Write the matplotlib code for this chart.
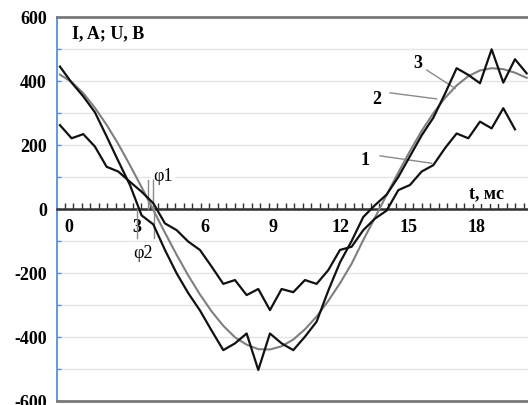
import numpy as np
import matplotlib
matplotlib.use('Agg')
import matplotlib.pyplot as plt
from matplotlib.ticker import FixedLocator, MultipleLocator

# ---- data ----
T0 = -0.4          # time of first sample, ms
DT = 0.515         # sample step, ms
curve_1 = [262, 221, 234, 195, 132, 117, 85, 54, 18, -45, -66, -102, -128, -180,
           -234, -222, -269, -250, -316, -250, -260, -222, -234, -191, -128, -118,
           -66, -30, -5, 59, 75, 117, 137, 190, 236, 221, 273, 252, 315, 249]
curve_2 = [445, 395, 352, 302, 227, 150, 75, -20, -48, -128, -201, -263, -317, -380,
           -441, -420, -389, -503, -389, -420, -441, -399, -352, -255, -167, -100,
           -25, 12, 45, 100, 165, 230, 285, 360, 440, 419, 393, 499, 395, 468, 424]
curve_3 = [420, 397, 362, 316, 263, 203, 137, 68, -3, -74, -143, -208, -267, -320,
           -365, -401, -424, -438, -439, -429, -408, -376, -336, -287, -232, -171,
           -97, -27, 44, 114, 181, 244, 299, 347, 386, 415, 433, 440, 437, 426, 410]
x_tick_labels = [0, 3, 6, 9, 12, 15, 18]
y_tick_labels = [-600, -400, -200, 0, 200, 400, 600]
phi1_marks = [3.5, 3.72]
phi2_marks = [3.0, 3.75]

t1 = T0 + DT * np.arange(len(curve_1))
t2 = T0 + DT * np.arange(len(curve_2))
t3 = T0 + DT * np.arange(len(curve_3))

FONT = 'Liberation Serif'
FS = 13
plt.rcParams['font.family'] = [FONT, 'DejaVu Serif']
plt.rcParams['font.weight'] = 'bold'

fig = plt.figure(figsize=(5.28, 4.05), dpi=100)
W, H = 528, 405
ax = fig.add_axes([56.7 / W, 4 / H, (W - 56.7) / W, (401 - 17) / H])
ax.set_xlim(-0.543, 20.26)
ax.set_ylim(-600, 600)

# grid
ax.yaxis.set_major_locator(FixedLocator(y_tick_labels))
ax.yaxis.set_minor_locator(MultipleLocator(100))
ax.grid(axis='y', which='both', color='#e4e4e4', lw=1.0, zorder=0)
ax.set_axisbelow(True)

# spines
blue = '#5b8fd9'
ax.spines['left'].set_color(blue)
ax.spines['left'].set_linewidth(1.3)
ax.spines['right'].set_visible(False)
ax.spines['top'].set_color('#7a7a7a')
ax.spines['top'].set_linewidth(2.0)
ax.spines['bottom'].set_position(('data', 0))
ax.spines['bottom'].set_color('#303030')
ax.spines['bottom'].set_linewidth(1.8)
ax.spines['bottom'].set_zorder(3)
ax.axhline(-600, color='#7a7a7a', lw=2.0, clip_on=False, zorder=3)

ax.tick_params(axis='y', which='both', direction='in', color=blue, length=3,
               width=1.0, pad=7, labelsize=FS)
ax.xaxis.set_major_locator(FixedLocator(x_tick_labels))
ax.xaxis.set_minor_locator(MultipleLocator(0.375, offset=0.1875))
ax.tick_params(axis='x', which='major', length=0, pad=7, labelsize=FS)
ax.tick_params(axis='x', which='minor', direction='in', length=4, width=1.0,
               color='#303030')
ax.set_xticklabels([str(v) for v in x_tick_labels], fontweight='bold')
ax.set_yticklabels([str(v) for v in y_tick_labels], fontweight='bold')

# curves
ax.plot(t3, curve_3, color='#7f7f7f', lw=1.5, zorder=4)
ax.plot(t1, curve_1, color='#111111', lw=1.6, zorder=5)
ax.plot(t2, curve_2, color='#111111', lw=1.6, zorder=5)

# phase marks
for x in phi1_marks:
    ax.plot([x, x], [0, 90], color='#8a8a8a', lw=1.0, zorder=4)
for x in phi2_marks:
    ax.plot([x, x], [0, -90], color='#8a8a8a', lw=1.0, zorder=4)

box = dict(facecolor='white', edgecolor='none', pad=1.5)
tk = dict(fontsize=FS, fontweight='bold', ha='center', va='center', zorder=3)
ax.text(0.12, 548, 'I, A; U, B', fontsize=FS, fontweight='bold', ha='left',
        va='center', zorder=3)
ax.text(4.13, 103, 'φ1', fontsize=FS, fontweight='normal', ha='center',
        va='center', zorder=3, bbox=box)
ax.text(3.27, -138, 'φ2', fontsize=FS, fontweight='normal', ha='center',
        va='center', zorder=3, bbox=box)
ax.text(18.42, 49, 't, мс', bbox=box, **tk)

ax.text(15.41, 456, '3', bbox=box, **tk)
ax.text(13.58, 343, '2', bbox=box, **tk)
ax.text(13.07, 153, '1', bbox=box, **tk)
ax.plot([15.79, 17.04], [434, 377], color='#8a8a8a', lw=1.0, zorder=4)
ax.plot([14.17, 16.23], [363, 344], color='#8a8a8a', lw=1.0, zorder=4)
ax.plot([13.73, 16.01], [166, 143], color='#8a8a8a', lw=1.0, zorder=4)

fig.savefig('out.png', dpi=100)
